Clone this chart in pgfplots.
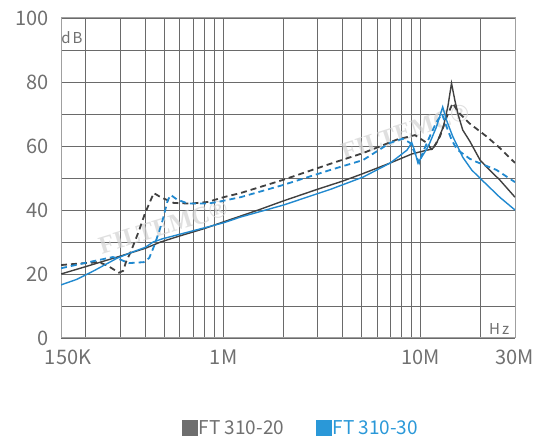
\documentclass[border=0pt]{standalone}
\usepackage{pgfplots}
\pgfplotsset{compat=1.18}
\usepackage{fontspec}
\setmainfont{Noto Sans CJK SC}
\newfontfamily\wm{Liberation Serif}
\definecolor{lineg}{HTML}{404040}
\definecolor{lineb}{HTML}{2189CF}
\definecolor{gridc}{HTML}{6A6A6A}
\definecolor{framec}{HTML}{A0A0A0}
\definecolor{txt}{HTML}{707070}
\definecolor{legg}{HTML}{6E6E6E}
\definecolor{legb}{HTML}{2A98D8}
\begin{document}
\begin{tikzpicture}[x=1pt,y=1pt]
\path[use as bounding box] (-61,-98) rectangle (486,338);
\begin{axis}[
  at={(0,0)}, anchor=south west,
  scale only axis, width=454pt, height=320pt,
  xmode=log, xmin=1.5e5, xmax=3e7, ymin=0, ymax=100,
  xtick={1.5e5,1e6,1e7,3e7},
  xticklabels={\hspace{14pt}150K,1M,10M,30M},
  minor xtick={2e5,3e5,4e5,5e5,6e5,7e5,8e5,9e5,2e6,3e6,4e6,5e6,6e6,7e6,8e6,9e6,2e7},
  ytick={0,20,40,60,80,100},
  yticklabels={0,20,40,60,80,100},
  minor ytick={10,30,50,70,90},
  grid=both,
  major grid style={gridc, line width=0.8pt},
  minor grid style={gridc, line width=0.8pt},
  axis line style={framec, line width=1pt},
  major tick length=0pt, minor tick length=0pt,
  tick label style={font=\fontsize{20}{20}\selectfont, text=txt, inner sep=0pt},
  xticklabel style={yshift=-12pt},
  yticklabel style={xshift=-12pt},
  legend style={at={(0.528,-0.281)}, anchor=center, draw=none, fill=none,
    legend columns=2, font=\fontsize{19}{19}\selectfont,
    /tikz/every even column/.append style={column sep=30pt},
    nodes={inner sep=1.5pt}},
]
\node[rotate=17, font=\wm\bfseries\fontsize{25}{25}\selectfont, text=gray!35, opacity=0.7] at (rel axis cs:0.225,0.347) {FILTEMC®};
\node[rotate=18, font=\wm\bfseries\fontsize{25}{25}\selectfont, text=gray!35, opacity=0.7] at (rel axis cs:0.758,0.644) {FILTEMC®};
\node[text=txt, font=\fontsize{15}{15}\selectfont] at (rel axis cs:0.024,0.9375) {d\hspace{2pt}B};
\node[text=txt, font=\fontsize{15}{15}\selectfont] at (rel axis cs:0.965,0.028) {H\hspace{2pt}z};

\addlegendimage{legend image code/.code={\fill[legg] (-1pt,-7.5pt) rectangle (14pt,7.5pt);}}
\addlegendentry{\textcolor{txt}{FT 310-20}}
\addlegendimage{legend image code/.code={\fill[legb] (-1pt,-7.5pt) rectangle (14pt,7.5pt);}}
\addlegendentry{\textcolor{legb}{FT 310-30}}

% FT310-20 solid
\addplot[lineg, line width=1.4pt, forget plot] coordinates {
(1.5e5,20) (2e5,22.3) (3e5,25.6) (4e5,28) (4.8e5,30) (6e5,31.9) (8e5,34.2) (1e6,36.3) (1.5e6,40) (2e6,42.8) (3e6,46.5) (4e6,49) (5e6,51.2) (7e6,54.7) (9e6,57.5) (1.07e7,58.7) (1.14e7,59) (1.2e7,60.8) (1.3e7,66) (1.37e7,72.3) (1.43e7,79.6) (1.49e7,74) (1.55e7,69.5) (1.63e7,65) (1.77e7,61.5) (2e7,55.5) (2.23e7,52.5) (2.51e7,49.4) (3e7,44)};
% FT310-20 dashed
\addplot[lineg, line width=1.8pt, dash pattern=on 6pt off 4pt, forget plot] coordinates {
(1.5e5,22.8) (1.8e5,23.2) (2.34e5,23.7) (2.6e5,22.5) (2.95e5,20.4) (3.1e5,21) (3.2e5,23.7) (3.39e5,27) (3.7e5,33) (4e5,39) (4.43e5,45.3) (4.8e5,44) (5.6e5,42.2) (6.8e5,42) (8.3e5,42.5) (1e6,44) (1.22e6,45.3) (2e6,49.4) (3.5e6,54.5) (5.1e6,57.8) (7.56e6,62) (9.33e6,63.4) (1.07e7,61) (1.14e7,58.7) (1.25e7,63) (1.35e7,69) (1.45e7,73.4) (1.55e7,70.5) (1.77e7,67) (2.15e7,63) (2.51e7,59.4) (3e7,54.7)};
% FT310-30 solid
\addplot[lineb, line width=1.4pt, forget plot] coordinates {
(1.5e5,16.6) (1.8e5,18.3) (2.2e5,21) (2.9e5,25) (3.5e5,27) (4e5,28.3) (4.4e5,30) (4.9e5,31) (7e5,33.5) (1e6,36) (1.22e6,37.8) (2e6,41.5) (3.5e6,46.5) (5.1e6,50.3) (7e6,54.7) (8.5e6,58.7) (9e6,61) (9.3e6,58.5) (9.66e6,54.7) (1.02e7,57) (1.07e7,59) (1.11e7,61) (1.2e7,66) (1.29e7,72.2) (1.35e7,68) (1.45e7,63) (1.63e7,56.5) (1.81e7,52.5) (1.99e7,50) (2.51e7,44) (3e7,40)};
% FT310-30 dashed
\addplot[lineb, line width=1.8pt, dash pattern=on 6pt off 4pt, forget plot] coordinates {
(1.5e5,21.8) (2e5,23.5) (2.75e5,25.3) (3e5,24.5) (3.31e5,23.4) (3.94e5,23.7) (4.2e5,25) (4.43e5,28.5) (4.7e5,33) (4.92e5,37) (5.21e5,43) (5.4e5,44.7) (5.8e5,43.3) (6.6e5,42) (8.3e5,42) (9.3e5,42.5) (1.22e6,44) (2e6,47.8) (3.47e6,52.5) (5.09e6,55.6) (7e6,61) (8.1e6,62.3) (8.8e6,61) (9.3e6,58) (9.8e6,54.7) (1.02e7,57.8) (1.11e7,63) (1.2e7,67.5) (1.28e7,70) (1.35e7,66) (1.43e7,62) (1.52e7,59) (1.77e7,56) (1.92e7,55) (2.42e7,52.5) (3e7,48.7)};
\end{axis}
\end{tikzpicture}
\end{document}
